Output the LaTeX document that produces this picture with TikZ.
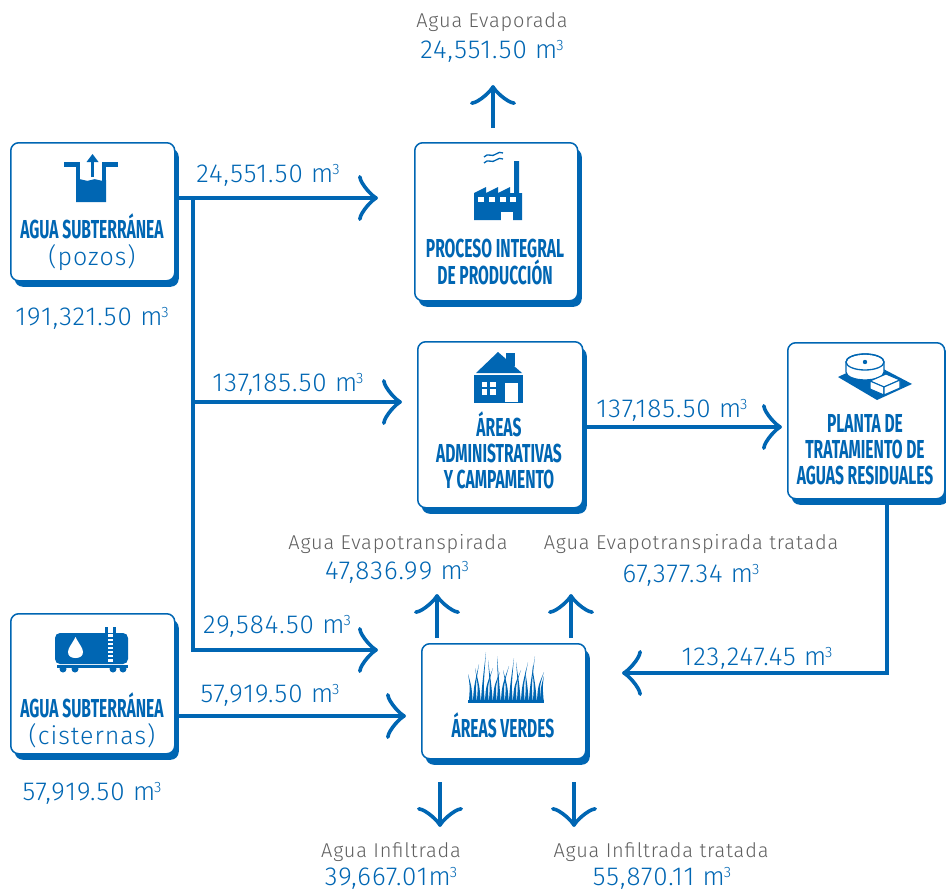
\documentclass[tikz,border=0pt]{standalone}
\usepackage{fontspec}
\setmainfont{Fira Sans}
\newfontfamily\titlefont{Fira Sans}[FakeStretch=0.6]
\newfontfamily\numfont{Fira Sans Light}[LetterSpace=4]
\usetikzlibrary{arrows.meta,shadows}
\definecolor{fblue}{HTML}{0066B3}
\definecolor{fgray}{HTML}{606060}
\newcommand\mcub{m\kern-1pt\raisebox{8pt}{\fontsize{15}{15}\selectfont 3}}
\begin{document}
\begin{tikzpicture}[x=1pt,y=-1pt,
  box/.style={draw=fblue, line width=1.5pt, fill=white, rounded corners=8pt, inner sep=0pt, anchor=north west,
    general shadow={fill=fblue, shadow xshift=4pt, shadow yshift=-6pt}},
  flow/.style={draw=fblue, line width=4.5pt, -{Classical TikZ Rightarrow[length=20pt,width=46pt]}},
  num/.style={text=fblue, font=\numfont\fontsize{26}{30}\selectfont, inner sep=0pt, anchor=base},
  lab/.style={text=fgray, font=\numfont\fontsize{20}{24}\selectfont, inner sep=0pt, anchor=base},
  ttl/.style={text=fblue, font=\titlefont\bfseries\fontsize{26}{28}\selectfont, inner sep=0pt, anchor=base},
  sub/.style={text=fblue, font=\numfont\fontsize{25}{28}\selectfont, inner sep=0pt, anchor=base},
  icon/.style={fill=fblue}
]
\useasboundingbox (0,0) rectangle (946,891);

% ---------- boxes ----------
\node[box, minimum width=164pt, minimum height=138pt] (pozos) at (10,142) {};
\node[box, minimum width=163pt, minimum height=158pt] (proceso) at (414,142) {};
\node[box, minimum width=165pt, minimum height=166pt] (admin) at (417,341) {};
\node[box, minimum width=157pt, minimum height=156pt] (planta) at (787,342) {};
\node[box, minimum width=164pt, minimum height=140pt] (cist) at (10,613) {};
\node[box, minimum width=164pt, minimum height=115pt] (verdes) at (421,643) {};

% ---------- coordinates ----------
\coordinate (t1) at (378,198);
\coordinate (j1) at (193,198);
\coordinate (j2) at (193,402);
\coordinate (t2) at (402,402);
\coordinate (j3) at (193,650);
\coordinate (t3) at (378,650);
\coordinate (t4) at (406,716);
\coordinate (t5) at (782,427);
\coordinate (p1) at (887,673);
\coordinate (t6) at (622,673);
\coordinate (ev0) at (493,128);
\coordinate (ev1) at (493,85);
\coordinate (u1a) at (437,638);
\coordinate (u1b) at (437,594);
\coordinate (u2a) at (571,638);
\coordinate (u2b) at (571,594);
\coordinate (d1a) at (440,782);
\coordinate (d1b) at (440,827);
\coordinate (d2a) at (574,782);
\coordinate (d2b) at (574,827);

% ---------- connectors ----------
\draw[flow] (pozos.east |- t1) -- (t1);
\draw[flow] (j1) -- (j3) -- (t3);
\draw[flow] (j2) -- (t2);
\draw[flow] (cist.east |- t4) -- (t4);
\draw[flow] (admin.east |- t5) -- (t5);
\draw[flow] (planta.south -| p1) -- (p1) -- (t6);
\draw[flow] (ev0) -- (ev1);
\draw[flow] (u1a) -- (u1b);
\draw[flow] (u2a) -- (u2b);
\draw[flow] (d1a) -- (d1b);
\draw[flow] (d2a) -- (d2b);

% ---------- flow labels ----------
\node[num] (n1) at (268,182) {24,551.50 \mcub};
\node[num] (n2) at (288,391) {137,185.50 \mcub};
\node[num] (n3) at (277,633) {29,584.50 \mcub};
\node[num] (n4) at (270,702) {57,919.50 \mcub};
\node[num] (n5) at (672,417) {137,185.50 \mcub};
\node[num] (n6) at (757,665) {123,247.45 \mcub};
\node[num] (n7) at (92,325) {191,321.50 \mcub};
\node[num] (n8) at (92,800) {57,919.50 \mcub};

\node[lab] (l1) at (492,28) {Agua Evaporada};
\node[num] (n9) at (492,59) {24,551.50 \mcub};
\node[lab] (l2) at (398,549) {Agua Evapotranspirada};
\node[num] (n10) at (397,579) {47,836.99 \mcub};
\node[lab] (l3) at (691,549) {Agua Evapotranspirada tratada};
\node[num] (n11) at (691,582) {67,377.34 \mcub};
\node[lab] (l4) at (391,857) {Agua Infiltrada};
\node[num] (n12) at (391,885) {39,667.01\mcub};
\node[lab] (l5) at (661,857) {Agua Infiltrada tratada};
\node[num] (n13) at (662,885) {55,870.11 \mcub};

% ---------- titles ----------
\node[ttl] (tp1) at (92,238) {AGUA SUBTERRÁNEA};
\node[sub] (tp2) at (92,265) {(pozos)};
\node[ttl] (tc1) at (92,717) {AGUA SUBTERRÁNEA};
\node[sub] (tc2) at (92,744) {(cisternas)};
\node[ttl] (tr1) at (495,257) {PROCESO INTEGRAL};
\node[ttl] (tr2) at (495,284) {DE PRODUCCIÓN};
\node[ttl] (ta1) at (499,436) {ÁREAS};
\node[ttl] (ta2) at (499,462) {ADMINISTRATIVAS};
\node[ttl] (ta3) at (499,488) {Y CAMPAMENTO};
\node[ttl] (tt1) at (865,432) {PLANTA DE};
\node[ttl] (tt2) at (865,458) {TRATAMIENTO DE};
\node[ttl] (tt3) at (865,484) {AGUAS RESIDUALES};
\node[ttl] (tv1) at (503,737) {ÁREAS VERDES};

% ---------- icon: well ----------
\fill[icon] (64,162) rectangle (80,167);
\fill[icon] (76,162) rectangle (80,202);
\fill[icon] (102,162) rectangle (118,167);
\fill[icon] (102,162) rectangle (106,202);
\fill[icon] (76,202) -- (76,180) .. controls (81,177) and (86,183) .. (91,180)
  .. controls (96,177) and (101,183) .. (106,180) -- (106,202) -- cycle;
\draw[fblue, line width=2.5pt] (92.5,177) -- (92.5,160);
\fill[icon] (86.5,162) -- (92.5,154) -- (98.5,162) -- cycle;

% ---------- icon: factory ----------
\fill[icon] (474,193) -- (486,187) -- (486,193) -- (498,187) -- (498,193) -- (510,187) -- (510,193)
  -- (514,193) -- (514,161) -- (519,161) -- (519,193) -- (522,193) -- (522,220) -- (474,220) -- cycle;
\foreach \wx in {478,489,500,510} \fill[white] (\wx,197) rectangle ({\wx+6},202);
\fill[white] (501,212) rectangle (513,220.5);
\draw[fblue, line width=1.3pt] (484,157) .. controls (488,152) and (492,158) .. (496,154) .. controls (498,152) and (501,152) .. (503,153);
\draw[fblue, line width=1.3pt] (484,163) .. controls (488,158) and (492,164) .. (496,160) .. controls (498,158) and (501,158) .. (503,159);

% ---------- icon: house ----------
\fill[icon] (476,373) -- (498,352) -- (522,373) -- cycle;
\fill[icon] (506,353) rectangle (515,366);
\fill[icon] (474,375) rectangle (523,403);
\fill[white] (482,382) rectangle (487,387);
\fill[white] (490,382) rectangle (496,387);
\fill[white] (482,389) rectangle (487,395);
\fill[white] (490,389) rectangle (496,395);
\fill[white] (505,383) rectangle (518,402);

% ---------- icon: tank ----------
\fill[icon] (105,627) rectangle (107.5,634);
\fill[icon] (113,627) rectangle (115.5,634);
\fill[icon, rounded corners=5pt] (55,633) rectangle (128,664);
\fill[white] (107.5,634) rectangle (113,662);
\foreach \ry in {637,641,645,649,653,657} \fill[icon] (107.5,\ry) rectangle (113,{\ry+1.6});
\fill[white] (75.5,637) .. controls (72,644) and (68,648) .. (68,652) .. controls (68,656) and (71,658) .. (75.5,658)
  .. controls (80,658) and (83,656) .. (83,652) .. controls (83,648) and (79,644) .. (75.5,637) -- cycle;
\fill[icon] (57,665) rectangle (128,668);
\foreach \wx in {63,75,113,123} \fill[icon] (\wx,669) circle (3.5);

% ---------- icon: grass ----------
\fill[icon] (468,700) rectangle (544,703);
\foreach \bx/\dx/\ty in {471/-3/674, 475/4/664, 479/-4/668, 483/3/652, 487/6/668, 491/-3/660, 495/5/672,
  499/-2/656, 503/6/666, 507/-4/670, 511/3/658, 515/6/670, 519/-3/662, 523/5/662, 527/-2/670, 531/4/656,
  535/-3/666, 539/5/672, 542/2/676}
  \fill[icon] ({\bx-2},700) .. controls ({\bx-1},686) .. ({\bx+\dx},\ty) .. controls ({\bx+0.5},686) .. ({\bx+1.6},700) -- cycle;

% ---------- icon: treatment plant ----------
\fill[icon] (838,377) -- (870,362) -- (912,384) -- (877,400) -- cycle;
\filldraw[fill=white, draw=fblue, line width=1.3pt] (846,362) -- (846,372)
  arc[start angle=180, end angle=0, x radius=19, y radius=8] -- (884,362)
  arc[start angle=0, end angle=-180, x radius=19, y radius=8] -- cycle;
\draw[fblue, line width=1.3pt] (865,362) ellipse [x radius=19, y radius=8];
\fill[icon] (865,362) circle (2.2);
\filldraw[fill=white, draw=fblue, line width=1.1pt] (870,381) -- (886,374) -- (900,380) -- (884,387) -- cycle;
\filldraw[fill=white, draw=fblue, line width=1.1pt] (870,381) -- (884,387) -- (884,395) -- (870,389) -- cycle;
\filldraw[fill=white, draw=fblue, line width=1.1pt] (884,387) -- (900,380) -- (900,388) -- (884,395) -- cycle;
\end{tikzpicture}
\end{document}
